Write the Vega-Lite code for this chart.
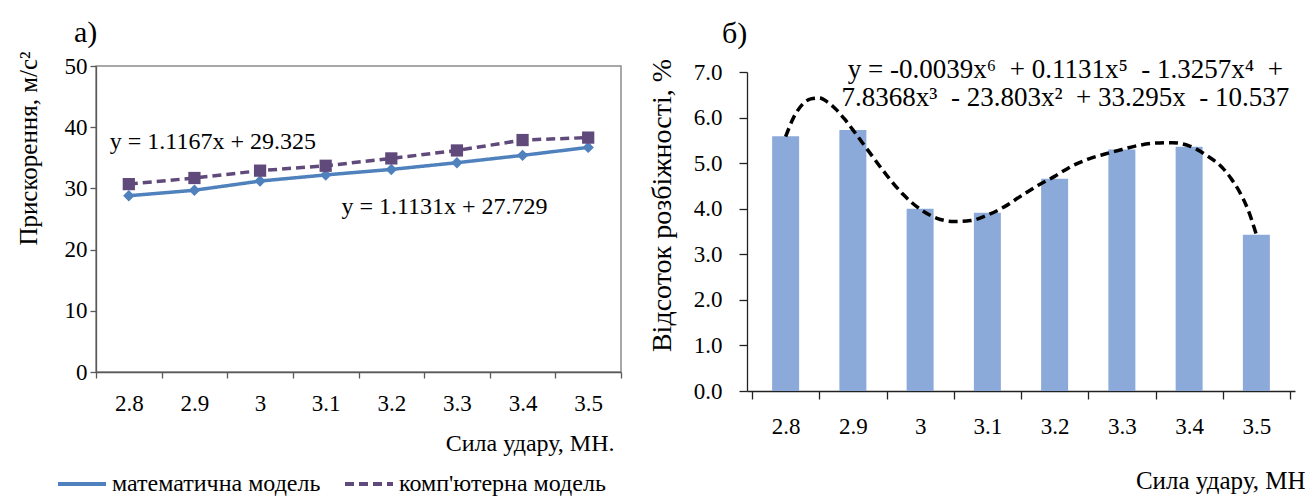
{
  "$schema": "https://vega.github.io/schema/vega-lite/v6.json",
  "padding": {"left": 15, "top": 17, "right": 0, "bottom": 0},
  "spacing": 24,
  "config": {
    "font": "Liberation Serif",
    "view": {"stroke": null},
    "axis": {"labelFont": "Liberation Serif", "titleFont": "Liberation Serif", "labelColor": "#000", "titleColor": "#000", "labelFontSize": 23, "titleFontSize": 24, "titleFontWeight": "normal", "grid": false, "domainWidth": 1.3, "tickWidth": 1.3},
    "title": {"font": "Liberation Serif", "fontSize": 30, "fontWeight": "normal", "anchor": "start", "frame": "group", "color": "#000"}
  },
  "hconcat": [
    {
      "width": 525,
      "height": 306,
      "view": {"stroke": "#8c8c8c", "strokeWidth": 1.5},
      "title": {"text": "a)", "dx": -22, "offset": 3},
      "layer": [
        {
          "data": {"name": "left"},
          "mark": {"type": "line", "strokeWidth": 3.5},
          "encoding": {
            "x": {"field": "force", "type": "quantitative", "scale": {"domain": [2.75, 3.55], "nice": false, "zero": false},
              "axis": {"orient": "bottom", "values": [2.75, 2.85, 2.95, 3.05, 3.15, 3.25, 3.35, 3.45, 3.55], "labels": false, "tickSize": 6, "domainColor": "#595959", "tickColor": "#595959",
                "title": "Сила удару, МН.", "titleFont": "Liberation Serif", "titleFontSize": 24, "titleX": 518, "titleY": 78, "titleAlign": "right", "titleBaseline": "alphabetic"}},
            "y": {"field": "value", "type": "quantitative", "scale": {"domain": [0, 50], "nice": false},
              "axis": {"values": [0, 10, 20, 30, 40, 50], "tickSize": 6, "labelPadding": 3, "labelFont": "Liberation Serif", "labelFontSize": 23, "domainColor": "#595959", "tickColor": "#595959",
                "title": "Прискорення, м/с²", "titleFont": "Liberation Serif", "titleFontSize": 25, "titleX": -68, "titleY": 82, "titleAlign": "center", "titleBaseline": "middle", "titleAngle": -90}},
            "color": {"field": "series", "type": "nominal", "sort": null,
              "scale": {"domain": ["математична модель", "комп'ютерна модель"], "range": ["#4f81bd", "#604a7b"]},
              "legend": {"orient": "none", "legendX": -40, "legendY": 392, "direction": "horizontal", "title": null, "symbolType": "stroke", "symbolSize": 2304, "symbolStrokeWidth": 4, "labelFontSize": 24, "labelFont": "Liberation Serif", "labelColor": "#000", "labelLimit": 0, "columnPadding": 16, "labelOffset": 4, "padding": 0}},
            "strokeDash": {"field": "series", "type": "nominal", "sort": null,
              "scale": {"domain": ["математична модель", "комп'ютерна модель"], "range": [[1, 0], [9, 5]]},
              "legend": {"orient": "none", "legendX": -40, "legendY": 392, "direction": "horizontal", "title": null, "symbolType": "stroke", "symbolSize": 2304, "symbolStrokeWidth": 4, "labelFontSize": 24, "labelFont": "Liberation Serif", "labelColor": "#000", "labelLimit": 0, "columnPadding": 16, "labelOffset": 4, "padding": 0}}
          }
        },
        {
          "data": {"name": "left"},
          "transform": [{"filter": "datum.series === 'математична модель'"}],
          "mark": {"type": "point", "shape": "diamond", "filled": true, "opacity": 1, "size": 130, "color": "#4f81bd"},
          "encoding": {
            "x": {"field": "force", "type": "quantitative",
              "axis": {"orient": "bottom", "values": [2.8, 2.9, 3.0, 3.1, 3.2, 3.3, 3.4, 3.5], "format": "~g", "labelFont": "Liberation Serif", "labelFontSize": 23, "ticks": false, "domain": false, "labelPadding": 20, "title": null}},
            "y": {"field": "value", "type": "quantitative"}
          }
        },
        {
          "data": {"name": "left"},
          "transform": [{"filter": "datum.series === \"комп'ютерна модель\""}],
          "mark": {"type": "point", "shape": "square", "filled": true, "opacity": 1, "size": 150, "color": "#604a7b"},
          "encoding": {
            "x": {"field": "force", "type": "quantitative", "axis": null},
            "y": {"field": "value", "type": "quantitative"}
          }
        },
        {
          "data": {"values": [{}]},
          "mark": {"type": "text", "align": "left", "baseline": "middle", "fontSize": 24, "font": "Liberation Serif", "color": "#000", "text": "y = 1.1167x  + 29.325"},
          "encoding": {"x": {"datum": 2.771, "type": "quantitative", "axis": null}, "y": {"datum": 37.6, "type": "quantitative"}}
        },
        {
          "data": {"values": [{}]},
          "mark": {"type": "text", "align": "left", "baseline": "middle", "fontSize": 24, "font": "Liberation Serif", "color": "#000", "text": "y = 1.1131x  + 27.729"},
          "encoding": {"x": {"datum": 3.124, "type": "quantitative", "axis": null}, "y": {"datum": 26.96, "type": "quantitative"}}
        }
      ],
      "resolve": {"axis": {"x": "independent"}}
    },
    {
      "width": 548,
      "height": 325,
      "title": {"text": "б)", "dx": -25, "offset": 7},
      "layer": [
        {
          "data": {"name": "bars"},
          "mark": {"type": "bar", "size": 27, "color": "#8caad9"},
          "encoding": {
            "x": {"field": "force", "type": "quantitative", "scale": {"domain": [2.75, 3.55], "nice": false, "zero": false},
              "axis": {"orient": "bottom", "values": [2.75, 2.85, 2.95, 3.05, 3.15, 3.25, 3.35, 3.45, 3.55], "labels": false, "tickSize": 8, "domainColor": "#222", "tickColor": "#222",
                "title": "Сила удару, МН", "titleFont": "Liberation Serif", "titleFontSize": 25, "titleX": 558, "titleY": 97, "titleAlign": "right", "titleBaseline": "alphabetic"}},
            "y": {"field": "value", "type": "quantitative", "scale": {"domain": [0, 7], "nice": false, "range": [325, 6]},
              "axis": {"values": [0, 1, 2, 3, 4, 5, 6, 7], "format": ".1f", "tickSize": 8, "labelPadding": 17, "labelFont": "Liberation Serif", "labelFontSize": 23, "domainColor": "#222", "tickColor": "#222",
                "title": "Відсоток розбіжності, %", "titleFont": "Liberation Serif", "titleFontSize": 28, "titleX": -85, "titleY": 139, "titleAlign": "center", "titleBaseline": "middle", "titleAngle": -90}}
          }
        },
        {
          "data": {"name": "curve"},
          "mark": {"type": "line", "interpolate": "monotone", "color": "#000", "strokeWidth": 3.5, "strokeDash": [9, 5]},
          "encoding": {
            "x": {"field": "force", "type": "quantitative",
              "axis": {"orient": "bottom", "values": [2.8, 2.9, 3.0, 3.1, 3.2, 3.3, 3.4, 3.5], "format": "~g", "labelFont": "Liberation Serif", "labelFontSize": 23, "ticks": false, "domain": false, "labelPadding": 24, "title": null}},
            "y": {"field": "value", "type": "quantitative"}
          }
        },
        {
          "data": {"values": [{}]},
          "mark": {"type": "text", "align": "center", "baseline": "middle", "fontSize": 27, "font": "Liberation Serif", "color": "#000", "lineHeight": 28,
            "text": ["y = -0.0039x⁶ \u00a0+ 0.1131x⁵ \u00a0- 1.3257x⁴ \u00a0+", "7.8368x³ \u00a0- 23.803x² \u00a0+ 33.295x \u00a0- 10.537"]},
          "encoding": {"x": {"datum": 3.216, "type": "quantitative", "axis": null}, "y": {"datum": 7.04, "type": "quantitative"}}
        }
      ],
      "resolve": {"axis": {"x": "independent"}}
    }
  ],
  "datasets": {
    "left": [
      {"force": 2.8, "series": "математична модель", "value": 28.8},
      {"force": 2.9, "series": "математична модель", "value": 29.7},
      {"force": 3.0, "series": "математична модель", "value": 31.2},
      {"force": 3.1, "series": "математична модель", "value": 32.2},
      {"force": 3.2, "series": "математична модель", "value": 33.1},
      {"force": 3.3, "series": "математична модель", "value": 34.2},
      {"force": 3.4, "series": "математична модель", "value": 35.4},
      {"force": 3.5, "series": "математична модель", "value": 36.7},
      {"force": 2.8, "series": "комп'ютерна модель", "value": 30.7},
      {"force": 2.9, "series": "комп'ютерна модель", "value": 31.7},
      {"force": 3.0, "series": "комп'ютерна модель", "value": 32.9},
      {"force": 3.1, "series": "комп'ютерна модель", "value": 33.7},
      {"force": 3.2, "series": "комп'ютерна модель", "value": 34.9},
      {"force": 3.3, "series": "комп'ютерна модель", "value": 36.2},
      {"force": 3.4, "series": "комп'ютерна модель", "value": 37.9},
      {"force": 3.5, "series": "комп'ютерна модель", "value": 38.3}
    ],
    "bars": [
      {"force": 2.8, "value": 5.59},
      {"force": 2.9, "value": 5.73},
      {"force": 3.0, "value": 4.00},
      {"force": 3.1, "value": 3.91},
      {"force": 3.2, "value": 4.66},
      {"force": 3.3, "value": 5.30},
      {"force": 3.4, "value": 5.36},
      {"force": 3.5, "value": 3.43}
    ],
    "curve": [
      {"force": 2.8, "value": 5.58},
      {"force": 2.8125, "value": 6.02},
      {"force": 2.825, "value": 6.29},
      {"force": 2.8375, "value": 6.41},
      {"force": 2.85, "value": 6.43},
      {"force": 2.8625, "value": 6.34},
      {"force": 2.875, "value": 6.18},
      {"force": 2.8875, "value": 5.97},
      {"force": 2.9, "value": 5.73},
      {"force": 2.925, "value": 5.23},
      {"force": 2.95, "value": 4.74},
      {"force": 2.975, "value": 4.31},
      {"force": 3.0, "value": 3.99},
      {"force": 3.025, "value": 3.79},
      {"force": 3.05, "value": 3.72},
      {"force": 3.075, "value": 3.74},
      {"force": 3.1, "value": 3.86},
      {"force": 3.125, "value": 4.04},
      {"force": 3.15, "value": 4.28},
      {"force": 3.175, "value": 4.51},
      {"force": 3.2, "value": 4.71},
      {"force": 3.225, "value": 4.93},
      {"force": 3.25, "value": 5.09},
      {"force": 3.275, "value": 5.20},
      {"force": 3.3, "value": 5.30},
      {"force": 3.325, "value": 5.39},
      {"force": 3.35, "value": 5.44},
      {"force": 3.375, "value": 5.45},
      {"force": 3.4, "value": 5.38},
      {"force": 3.425, "value": 5.18},
      {"force": 3.45, "value": 4.89},
      {"force": 3.4625, "value": 4.66},
      {"force": 3.475, "value": 4.37},
      {"force": 3.4875, "value": 3.98},
      {"force": 3.5, "value": 3.43}
    ]
  }
}
